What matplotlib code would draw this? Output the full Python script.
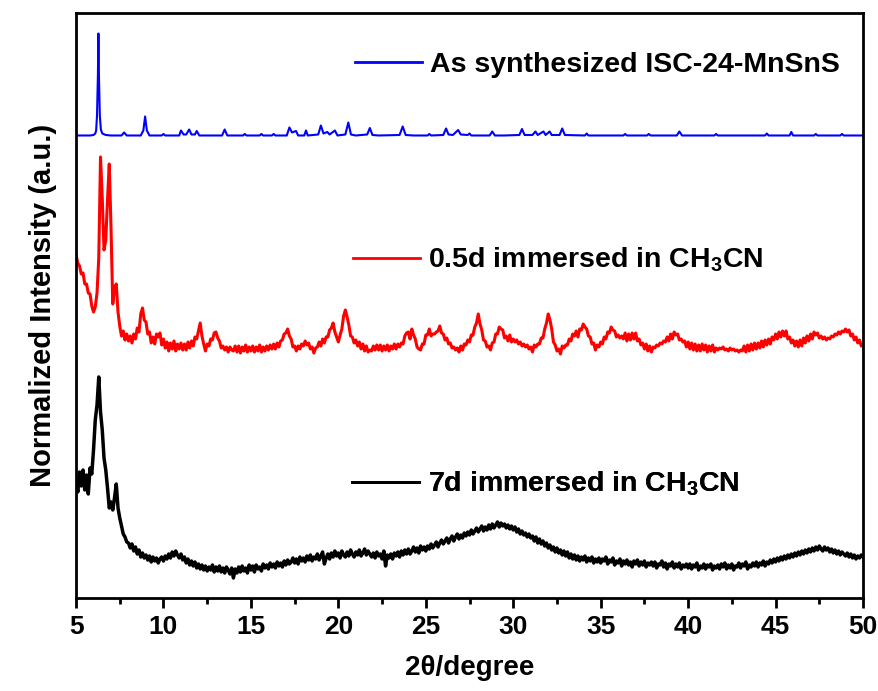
import numpy as np
import matplotlib
matplotlib.use("Agg")
import matplotlib.pyplot as plt
from matplotlib.ticker import MultipleLocator

plt.rcParams['font.family'] = ['Liberation Sans', 'DejaVu Sans']
plt.rcParams['font.weight'] = 'bold'
plt.rcParams['mathtext.fontset'] = 'custom'
plt.rcParams['mathtext.rm'] = 'Liberation Sans:bold'
plt.rcParams['mathtext.bf'] = 'Liberation Sans:bold'
plt.rcParams['mathtext.default'] = 'rm'

# as synthesized ISC-24-MnSnS (sharp pattern), (2theta, intensity above baseline)
blue_pts = [
    (5.0, 0), (5.8, 0), (6.0, 0.5), (6.1, 2), (6.15, 5), (6.2, 20), (6.25, 60),
    (6.28, 102), (6.31, 60), (6.36, 20), (6.42, 6), (6.5, 2), (6.7, 0.5), (7.0, 0),
    (7.6, 0), (7.75, 3), (7.9, 0), (8.7, 0), (8.85, 5), (8.95, 19), (9.05, 5), (9.2, 0),
    (9.9, 0), (10.0, 1.5), (10.1, 0), (10.9, 0), (11.0, 5), (11.15, 1), (11.3, 1),
    (11.47, 6), (11.6, 1), (11.8, 1), (11.9, 4.5), (12.05, 0), (13.35, 0), (13.5, 6),
    (13.65, 0), (14.55, 0), (14.65, 1.5), (14.75, 0), (15.5, 0), (15.6, 1.5), (15.7, 0),
    (16.2, 0), (16.3, 1.5), (16.4, 0), (17.05, 0), (17.2, 8), (17.35, 3), (17.58, 4.5),
    (17.7, 0), (18.05, 0), (18.15, 5), (18.25, 0), (18.85, 1), (19.0, 10), (19.15, 2),
    (19.37, 3.5), (19.5, 1), (19.8, 5), (19.95, 0), (20.4, 1), (20.57, 13), (20.72, 1),
    (21.0, 0), (21.65, 1), (21.8, 7.5), (21.95, 0.5), (22.3, 0), (23.5, 0.5),
    (23.68, 9), (23.85, 0.5), (24.3, 0), (25.1, 0), (25.2, 1.5), (25.3, 0), (26.0, 0.5),
    (26.16, 7), (26.3, 1), (26.55, 0.5), (26.85, 5.5), (27.0, 1), (27.4, 0.5),
    (27.5, 2), (27.6, 0), (28.65, 0), (28.8, 4), (28.95, 0), (29.5, 0), (30.35, 0.5),
    (30.5, 6.5), (30.65, 0.5), (31.1, 0.5), (31.27, 4), (31.4, 0.5), (31.73, 4),
    (31.85, 0.5), (32.08, 4), (32.2, 0.5), (32.65, 0.5), (32.8, 7), (32.95, 0.5),
    (34.1, 0), (34.2, 2), (34.3, 0), (36.3, 0), (36.4, 1.5), (36.5, 0), (37.65, 0),
    (37.75, 1.5), (37.85, 0), (39.35, 0), (39.5, 4), (39.65, 0), (41.5, 0), (41.6, 1.5),
    (41.7, 0), (44.4, 0), (44.5, 2), (44.6, 0), (45.8, 0), (45.9, 3.5), (46.0, 0),
    (47.2, 0), (47.3, 1.5), (47.4, 0), (48.7, 0), (48.8, 1.5), (48.9, 0), (50.0, 0),
]

# step scans 5-50 deg, 0.1 deg step (one row per degree)
scan_start, scan_stop = 5.0, 50.0

# 0.5 d in CH3CN
red_int = [
    93, 85, 82, 74, 75, 64, 64, 55, 54, 42,
    36, 41, 55, 90, 191, 150, 98, 108, 148, 184,
    120, 44, 60, 64, 36, 22, 12, 17, 8, 14,
    7, 12, 5, 14, 9, 20, 16, 34, 40, 28,
    26, 14, 16, 5, 11, 4, 14, 11, 15, 3,
    9, 0, 6, -3, 5, -1, 7, -3, 4, -1,
    5, -2, 4, -2, 6, 0, 7, 2, 11, 9,
    17, 25, 12, 4, -3, 4, 2, 9, 8, 15,
    16, 10, 7, 0, 2, -2, 1, -4, 1, -2,
    -3, 2, -4, 2, -5, 1, -3, 3, -4, 1,
    -3, 2, -4, 1, -3, 3, -4, 1, -3, 2,
    -2, 3, -1, 4, -1, 5, 1, 7, 8, 14,
    15, 19, 12, 9, 1, 2, -3, 2, -1, 4,
    2, 7, 3, 5, -1, 1, -5, 0, 1, 6,
    2, 9, 5, 11, 11, 18, 20, 25, 16, 11,
    6, 13, 19, 32, 38, 31, 23, 12, 11, 5,
    8, 2, 6, -1, 4, -3, 2, -4, -2, -3,
    2, -2, 3, -2, 3, -3, 2, -2, 3, -3,
    2, -1, 4, -1, 4, 1, 5, 4, 12, 15,
    16, 9, 19, 13, 9, 1, -1, -2, 4, 4,
    13, 13, 19, 12, 14, 14, 16, 17, 22, 15,
    14, 8, 10, 4, 5, 0, 1, -2, 0, -4,
    2, -2, 4, 3, 8, 6, 13, 13, 21, 25,
    34, 24, 18, 8, 7, 1, 2, -2, 5, 6,
    14, 14, 21, 19, 18, 10, 12, 7, 13, 6,
    9, 6, 8, 4, 6, 2, 4, 1, 3, -1,
    1, -4, 3, 1, 4, 4, 10, 10, 19, 25,
    34, 28, 19, 6, 3, -3, -1, -6, 2, 0,
    3, 3, 9, 7, 14, 12, 17, 11, 19, 18,
    24, 21, 19, 12, 11, 4, 5, -2, 3, 1,
    6, 4, 11, 9, 16, 15, 21, 18, 17, 11,
    13, 10, 12, 9, 15, 7, 14, 8, 15, 9,
    15, 7, 9, 3, 5, -1, 4, -3, 2, -4,
    1, 0, 3, 2, 5, 4, 7, 6, 11, 7,
    14, 9, 16, 13, 14, 8, 9, 6, 7, 1,
    6, -1, 5, -2, 4, -3, 3, -3, 4, -2,
    3, -4, 2, -3, 3, -4, 0, -2, 0, -1,
    1, -2, -1, -3, 0, -2, -1, -3, -2, -4,
    -2, -3, 2, -4, 3, -3, 4, -2, 5, -1,
    5, 0, 7, 1, 8, 3, 9, 4, 11, 8,
    14, 9, 16, 11, 17, 12, 17, 9, 11, 5,
    8, 2, 7, 1, 8, 2, 10, 5, 12, 7,
    14, 9, 16, 13, 15, 10, 12, 9, 11, 8,
    10, 9, 12, 11, 14, 13, 16, 14, 17, 16,
    19, 16, 18, 12, 14, 8, 11, 5, 8, 2,
    3,
]

# 7 d in CH3CN
black_int = [
    90, 78, 98, 84, 100, 80, 95, 76, 102, 96,
    120, 150, 165, 193, 158, 140, 112, 100, 82, 62,
    68, 60, 72, 86, 62, 52, 44, 36, 33, 28,
    27, 22, 26, 19, 23, 16, 20, 13, 17, 12,
    15, 10, 14, 8, 13, 9, 12, 7, 11, 13,
    9, 14, 11, 16, 12, 18, 14, 19, 15, 12,
    16, 10, 13, 7, 11, 5, 9, 4, 8, 2,
    6, 1, 5, 0, 4, -1, 3, 0, 5, -2,
    3, -1, 4, -2, 2, -3, 3, 0, -4, 2,
    -8, 1, -3, 3, -2, 4, -1, 2, -3, 5,
    0, 4, -2, 5, 1, 3, -1, 6, 2, 5,
    1, 7, 3, 6, 2, 8, 4, 7, 3, 9,
    5, 10, 6, 8, 12, 7, 11, 6, 13, 9,
    12, 8, 14, 10, 15, 9, 13, 11, 16, 10,
    14, 18, 6, 12, 16, 11, 17, 13, 19, 14,
    17, 12, 19, 15, 13, 18, 14, 20, 16, 13,
    18, 15, 20, 14, 17, 21, 15, 19, 16, 13,
    17, 12, 18, 14, 16, 11, 19, 4, 15, 12,
    16, 11, 17, 14, 18, 13, 19, 15, 20, 16,
    21, 16, 19, 23, 18, 22, 17, 24, 20, 23,
    19, 24, 21, 26, 22, 25, 28, 23, 27, 30,
    26, 29, 32, 27, 31, 34, 29, 33, 36, 31,
    35, 32, 37, 34, 38, 35, 40, 36, 39, 42,
    38, 41, 44, 39, 43, 40, 45, 41, 46, 42,
    45, 48, 43, 47, 44, 46, 42, 45, 41, 44,
    40, 43, 38, 41, 36, 39, 35, 37, 33, 36,
    32, 34, 29, 33, 27, 31, 26, 29, 24, 27,
    22, 25, 20, 23, 18, 22, 17, 20, 15, 19,
    14, 18, 12, 16, 11, 15, 10, 14, 9, 13,
    10, 14, 8, 12, 9, 13, 7, 11, 8, 12,
    7, 11, 9, 13, 6, 10, 8, 12, 5, 9,
    7, 11, 4, 9, 6, 10, 5, 8, 3, 9,
    6, 10, 4, 8, 5, 9, 3, 7, 5, 8,
    4, 8, 2, 6, 5, 9, 3, 7, 1, 6,
    4, 8, 2, 6, 3, 7, 1, 5, 3, 6,
    2, 6, 1, 5, 3, 7, 0, 4, 2, 6,
    1, 5, 3, 6, 0, 4, 2, 5, 1, 6,
    3, 7, 1, 5, 2, 6, 0, 4, 3, 7,
    2, 6, 4, 8, 1, 5, 3, 7, 4, 8,
    3, 7, 5, 9, 4, 8, 6, 10, 7, 11,
    8, 12, 9, 13, 10, 14, 11, 15, 12, 16,
    13, 17, 14, 18, 15, 19, 16, 20, 17, 21,
    18, 22, 19, 23, 20, 24, 21, 19, 23, 20,
    22, 18, 21, 17, 20, 16, 19, 15, 18, 16,
    14, 17, 13, 16, 12, 15, 11, 14, 12, 15,
    13,
]

labels = ['As synthesized ISC-24-MnSnS',
          '0.5d immersed in CH$_3$CN',
          '7d immersed in CH$_3$CN']
colors = ['#0000ff', '#ff0000', '#000000']
offsets = [462.5, 250, 28]  # vertical stacking

scan_x = np.linspace(scan_start, scan_stop, len(red_int))
blue_x = [p[0] for p in blue_pts]
blue_y = [p[1] for p in blue_pts]

fig = plt.figure(figsize=(8.79, 6.91), dpi=100)
ax = fig.add_axes([0.0865, 0.1346, 0.8953, 0.8466])

l1, = ax.plot(blue_x, np.array(blue_y) + offsets[0], color=colors[0], lw=1.5)
l2, = ax.plot(scan_x, np.array(red_int) + offsets[1], color=colors[1], lw=2.2)
l3, = ax.plot(scan_x, np.array(black_int) + offsets[2], color=colors[2], lw=2.5)

ax.set_xlim(5, 50)
ax.set_ylim(0, 585)

# one legend per curve, placed beside it
leg_pos = [(0.3545, 0.911), (0.352, 0.578), (0.351, 0.195)]
for line, lab, pos in zip([l1, l2, l3], labels, leg_pos):
    lg = ax.legend([line], [lab], loc='center left', bbox_to_anchor=pos,
                   frameon=False, borderaxespad=0, borderpad=0,
                   handlelength=2.35, handletextpad=0.3,
                   prop={'family': 'Liberation Sans', 'weight': 'bold', 'size': 20.5})
    for h in lg.legend_handles:
        h.set_linewidth(2.0)
    ax.add_artist(lg)

ax.xaxis.set_major_locator(MultipleLocator(5))
ax.xaxis.set_minor_locator(MultipleLocator(2.5))
ax.tick_params(axis='x', which='major', direction='out', length=7, width=2, pad=5)
ax.tick_params(axis='x', which='minor', direction='out', length=4, width=2)
ax.tick_params(axis='y', left=False, labelleft=False)
for sp in ax.spines.values():
    sp.set_linewidth(2)

for t in ax.get_xticklabels():
    t.set_fontweight('bold')
    t.set_fontsize(19)

ax.set_xlabel('2θ/degree', weight='bold', fontsize=20, labelpad=12)
ax.set_ylabel('Normalized Intensity (a.u.)', weight='bold', fontsize=21, labelpad=14)

fig.savefig('out.png', dpi=100)
